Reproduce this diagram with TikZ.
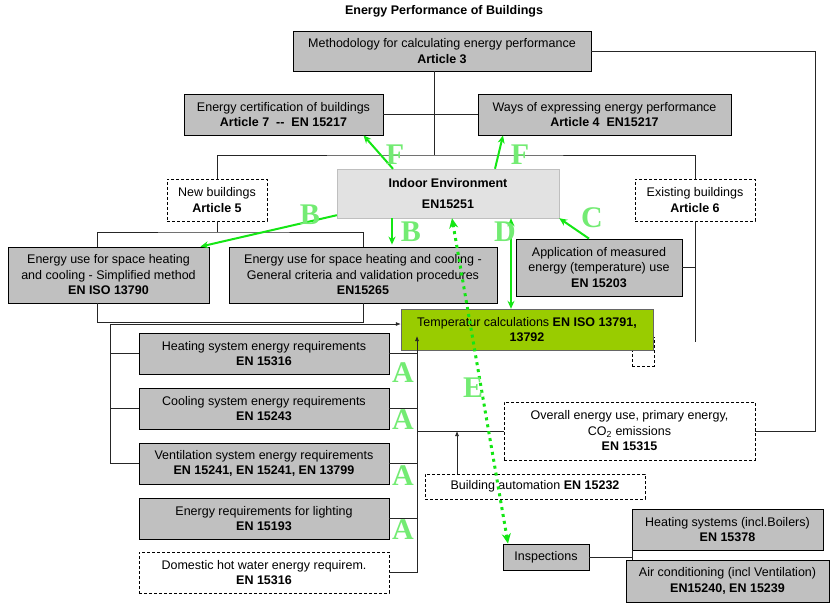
\documentclass[tikz,border=0pt]{standalone}
\usepackage{fontspec}
\setmainfont{Liberation Sans}
\newfontfamily\letterfont{Liberation Serif}
\usepackage{tikz}
\usetikzlibrary{arrows.meta}
\definecolor{boxgray}{RGB}{192,192,192}
\definecolor{tempgreen}{RGB}{153,204,0}
\definecolor{indoorgray}{RGB}{226,226,226}
\definecolor{arrowgreen}{RGB}{20,230,20}
\definecolor{lettergreen}{RGB}{115,235,115}

\begin{document}
\begin{tikzpicture}[x=1pt,y=-1pt,
    every node/.style={font=\fontsize{12.5}{15.5}\selectfont, inner sep=0pt, align=center},
    gbox/.style={draw=black, fill=boxgray, line width=0.8pt},
    dbox/.style={draw=black, dash pattern=on 3pt off 2pt, fill=white, line width=0.6pt},
    link/.style={black!85, line width=0.7pt},
    garrow/.style={arrowgreen, line width=2pt, -{Stealth[length=8pt,width=7pt]}},
    letter/.style={text=lettergreen, font=\letterfont\bfseries\fontsize{30}{30}\selectfont}]
    \useasboundingbox (0,0) rectangle (838,603);

    % title and the articles
    \node[font=\bfseries\fontsize{12.5}{15}\selectfont] (title) at (444,11) {Energy Performance of Buildings};
    \node[gbox, minimum width=298pt, minimum height=40pt] (method) at (442,51) {Methodology for calculating energy performance\\\textbf{Article 3}};
    \node[gbox, minimum width=199pt, minimum height=41pt] (cert) at (283.5,114.5) {Energy certification of buildings\\\textbf{Article 7~~-{}-~~EN 15217}};
    \node[gbox, minimum width=253pt, minimum height=41pt] (ways) at (604.5,114.5) {Ways of expressing energy performance\\\textbf{Article 4~~EN15217}};
    \node[draw=black!25, fill=indoorgray, minimum width=222pt, minimum height=49pt] (indoor) at (448,193.5) {\textbf{Indoor Environment}\\[6pt]\textbf{EN15251}};
    \node[dbox, minimum width=100pt, minimum height=42pt] (newb) at (217,200) {New buildings\\\textbf{Article 5}};
    \node[dbox, minimum width=120pt, minimum height=42pt] (exist) at (695,200) {Existing buildings\\\textbf{Article 6}};

    % calculation methods
    \node[gbox, minimum width=201pt, minimum height=56pt] (simple) at (108.5,275) {Energy use for space heating\\and cooling - Simplified method\\\textbf{EN ISO 13790}};
    \node[gbox, minimum width=268pt, minimum height=56pt] (general) at (363,275) {Energy use for space heating and cooling -\\General criteria and validation procedures\\\textbf{EN15265}};
    \node[gbox, minimum width=166pt, minimum height=57pt] (appl) at (599,267.5) {Application of measured\\energy (temperature) use\\\textbf{EN 15203}};
    \node[dbox, minimum width=22pt, minimum height=29pt] (stub) at (643,351.5) {};
    \node[draw=black!60, fill=tempgreen, minimum width=252pt, minimum height=41pt] (temp) at (527,329.5) {Temperatur calculations \textbf{EN ISO 13791,}\\\textbf{13792}};

    % system requirements
    \node[gbox, minimum width=250pt, minimum height=41pt] (heat) at (264,353.5) {Heating system energy requirements\\\textbf{EN 15316}};
    \node[gbox, minimum width=250pt, minimum height=41pt] (cool) at (264,408.5) {Cooling system energy requirements\\\textbf{EN 15243}};
    \node[gbox, minimum width=250pt, minimum height=41pt] (vent) at (264,463.5) {Ventilation system energy requirements\\\textbf{EN 15241, EN 15241, EN 13799}};
    \node[gbox, minimum width=250pt, minimum height=41pt] (light) at (264,518.5) {Energy requirements for lighting\\\textbf{EN 15193}};
    \node[dbox, minimum width=250pt, minimum height=41pt] (dhw) at (264,572.5) {Domestic hot water energy requirem.\\\textbf{EN 15316}};
    \node[dbox, minimum width=251pt, minimum height=58pt] (overall) at (629.5,431) {Overall energy use, primary energy,\\CO\textsubscript{2} emissions\\\textbf{EN 15315}};
    \node[dbox, minimum width=220pt, minimum height=25pt] (bauto) at (535,486.5) {Building automation \textbf{EN 15232}};

    % inspections
    \node[gbox, minimum width=86pt, minimum height=26pt] (insp) at (546,557) {Inspections};
    \node[gbox, minimum width=191pt, minimum height=41pt] (heatsys) at (727.5,529.5) {Heating systems (incl.Boilers)\\\textbf{EN 15378}};
    \node[gbox, minimum width=203pt, minimum height=42pt] (aircon) at (727.5,581) {Air conditioning (incl Ventilation)\\\textbf{EN15240, EN 15239}};

    % connectors
    \coordinate (mh) at (434,155);
    \coordinate (nb) at (217,232);
    \coordinate (lb) at (110,324);
    \coordinate (rb) at (417,336);
    \draw[link] (method.south -| mh) -- (mh);
    \draw[link] (cert.east) -- (ways.west);
    \draw[link] (newb.north) |- (mh) -| (exist.north);
    \draw[link] (method.east) -| ([xshift=60pt]overall.east) -- (overall.east);
    \draw[link] (newb.south) -- (nb);
    \draw[link] ([xshift=-11pt]simple.north) |- (nb) -| (general.north);
    \draw[link] ([xshift=-11pt]simple.south) |- ([yshift=-19pt]general.south) -- (general.south);
    \draw[link,-{Latex[length=5pt,width=4pt]}] (lb) -- (lb -| temp.west);
    \draw[link] (lb) |- (vent.west);
    \draw[link] (heat.west -| lb) -- (heat.west);
    \draw[link] (cool.west -| lb) -- (cool.west);
    \draw[link,-{Latex[length=5pt,width=4pt]}] (dhw.east) -| (rb);
    \draw[link] (heat.east) -- (heat.east -| rb);
    \draw[link] (cool.east) -- (cool.east -| rb);
    \draw[link] (vent.east) -- (vent.east -| rb);
    \draw[link] (light.east) -- (light.east -| rb);
    \draw[link] (overall.west -| rb) -- (overall.west);
    \draw[link,-{Latex[length=5pt,width=4pt]}] ([xshift=-78pt]bauto.north) -- ([xshift=-78pt]bauto.north |- overall.west);
    \draw[link] (appl.east) -- (appl.east -| exist.south);
    \draw[link] (exist.south) -- ([yshift=-121pt]exist.south);
    \draw[link] (insp.east) -- ++(43,0) coordinate (ic);
    \draw[link] (heatsys.south -| ic) -- (aircon.north -| ic);

    % green relations
    \draw[garrow] ([xshift=-55pt]indoor.north) -- ([xshift=80pt]cert.south);
    \draw[garrow] ([xshift=47pt]indoor.north) -- ([xshift=-101.5pt]ways.south);
    \draw[garrow] ([yshift=3pt]indoor.south west) -- ([xshift=-9pt]simple.north east);
    \draw[garrow] ([xshift=-56pt]indoor.south) -- ([xshift=-56pt,yshift=2pt]indoor.south |- general.north);
    \draw[garrow] ([xshift=-10pt]appl.north) -- (indoor.south east);
    \draw[garrow,{Stealth[length=8pt,width=7pt]}-{Stealth[length=8pt,width=7pt]}] ([xshift=63pt]indoor.south) -- ([xshift=63pt]indoor.south |- temp.north);
    \draw[arrowgreen, line width=3pt, dash pattern=on 3pt off 4pt, {Stealth[length=10pt,width=9pt]}-{Stealth[length=10pt,width=9pt]}] ([xshift=4pt]indoor.south) -- ([xshift=-38pt]insp.north);

    \node[letter] (lf1) at (395,155) {F};
    \node[letter] (lf2) at (520,155) {F};
    \node[letter] (lb1) at (310,215) {B};
    \node[letter] (lb2) at (411,232) {B};
    \node[letter] (lc) at (592,218) {C};
    \node[letter] (ld) at (505,232) {D};
    \node[letter] (le) at (473,388) {E};
    \node[letter] (la1) at (403,373) {A};
    \node[letter] (la2) at (403,420) {A};
    \node[letter] (la3) at (403,476) {A};
    \node[letter] (la4) at (403,530) {A};
\end{tikzpicture}
\end{document}
